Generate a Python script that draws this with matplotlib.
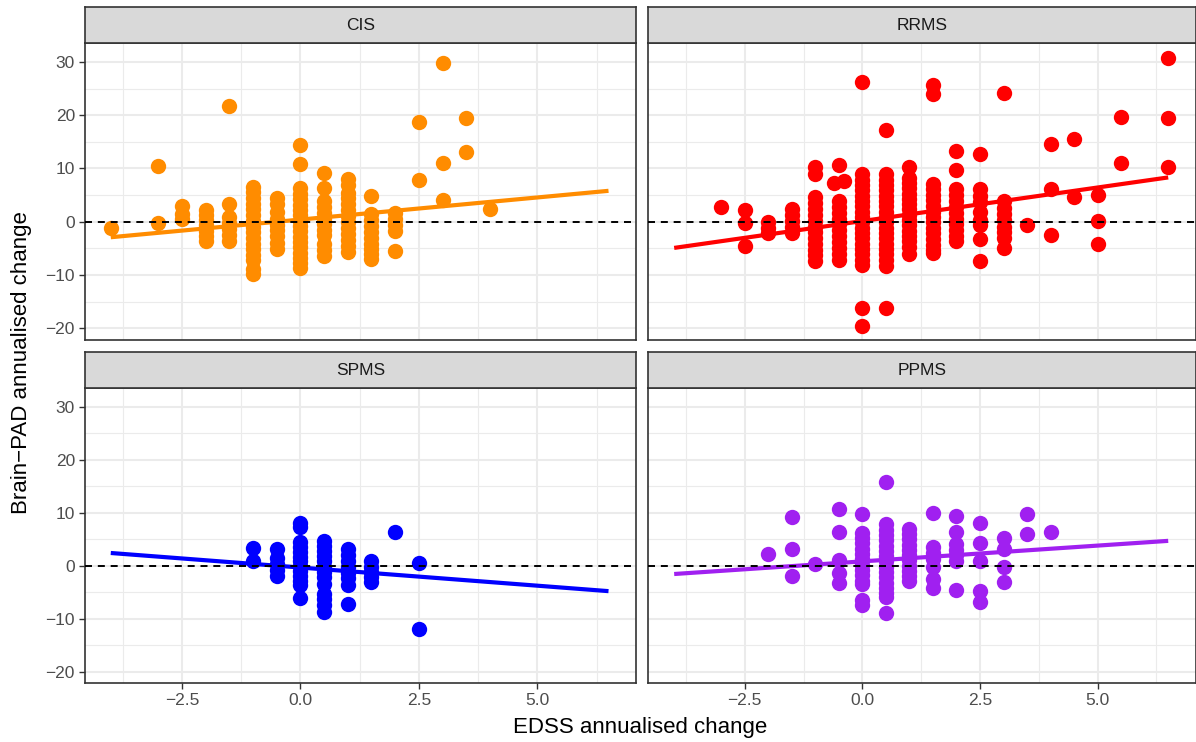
import numpy as np
import matplotlib
matplotlib.use("Agg")
import matplotlib.pyplot as plt

plt.rcParams['font.family'] = ['Liberation Sans', 'DejaVu Sans']

# EDSS change values (columns) and the Brain-PAD changes at each of them
cis_x = [-4, -3, -2.5, -2, -1.5, -1, -0.5, 0, 0.5, 1, 1.5, 2, 2.5, 3, 3.5, 4]
cis_y = [
    [-1.2],
    [10.5, -0.3],
    [3.0, 1.5, 0.5],
    [2.2, 1.2, 0.3, -0.7, -1.7, -2.7, -3.6],
    [21.8, 3.3, 0.8, -0.3, -1.4, -2.5, -3.6],
    [6.6, 5.5, 4.5, 3.4, 2.3, 1.2, 0.2, -0.9, -2.0, -3.0, -4.1, -5.2, -6.3, -7.2, -8.8, -9.8],
    [4.4, 3.3, 1.9, 0.6, -0.6, -1.5, -2.6, -4.0, -5.2],
    [14.4, 10.8, 6.4, 5.3, 4.3, 3.2, 2.2, 1.2, 0.2, -0.8, -1.8, -2.8, -3.8, -4.8, -5.8, -6.8, -7.8, -8.6],
    [9.2, 6.4, 3.9, 2.8, 1.7, 0.6, -0.5, -1.5, -2.4, -4.2, -5.3, -6.4],
    [8.0, 6.9, 5.4, 4.4, 3.3, 2.2, 1.1, 0.0, -1.2, -2.3, -3.4, -4.5, -5.7],
    [4.8, 1.4, 0.3, -0.8, -1.9, -3.0, -4.1, -5.2, -6.0, -6.9],
    [1.6, 0.5, -0.7, -1.8, -5.4],
    [18.8, 7.8],
    [29.8, 11.0, 4.0],
    [19.4, 13.1],
    [2.3],
]

rrms_x = [-3, -2.5, -2, -1.5, -1, -0.6, -0.5, -0.4, 0, 0.5, 1, 1.5, 2, 2.5, 3, 3.5, 4, 4.5, 5, 5.5, 6.5]
rrms_y = [
    [2.7],
    [2.2, -0.3, -4.6],
    [0.0, -1.1, -2.2],
    [2.3, 1.2, 0.1, -1.0, -2.2],
    [10.2, 8.9, 4.6, 3.5, 2.4, 1.3, 0.2, -0.9, -2.0, -3.1, -4.2, -5.3, -6.3, -7.3],
    [7.3],
    [10.6, 3.9, 2.8, 1.7, 0.6, -0.5, -1.6, -2.7, -3.8, -4.9, -6.0, -7.2],
    [7.6],
    [26.3, 8.9, 7.9, 6.9, 5.9, 4.9, 3.9, 2.9, 1.9, 0.9, -0.1, -1.1, -2.1, -3.1, -4.1,
     -5.1, -6.1, -7.1, -8.1, -16.1, -19.5],
    [17.3, 8.9, 7.9, 6.9, 5.9, 4.9, 3.9, 2.9, 1.9, 0.9, -0.1, -1.1, -2.1, -3.1, -4.1,
     -5.1, -6.1, -7.1, -8.3, -16.1],
    [10.2, 8.3, 7.3, 6.3, 5.3, 4.3, 3.3, 2.3, 1.3, 0.3, -0.7, -1.7, -2.7, -3.7, -4.7, -6.1],
    [25.7, 24.0, 7.1, 6.1, 5.0, 4.0, 3.0, 1.9, 0.9, -0.1, -1.2, -2.2, -3.2, -4.3, -5.3, -5.8],
    [13.3, 9.7, 6.1, 5.0, 3.9, 2.8, 1.7, 0.6, -0.5, -1.6, -2.7, -3.6],
    [12.8, 6.2, 4.9, 3.8, 1.9, 0.4, -0.6, -3.3, -7.4],
    [24.2, 3.9, 2.6, 1.4, 0.3, -0.9, -2.0, -3.1, -5.0],
    [-0.6],
    [14.6, 6.1, -2.4],
    [15.6, 4.6],
    [5.0, 0.2, -4.2],
    [19.6, 11.1],
    [30.7, 19.4, 10.3],
]

spms_x = [-1, -0.5, 0, 0.5, 1, 1.5, 2, 2.5]
spms_y = [
    [3.4, 0.9],
    [3.1, 1.5, 0.3, -0.9, -1.9],
    [8.0, 7.4, 4.4, 3.5, 2.6, 1.7, 0.8, -0.1, -1.0, -1.9, -2.8, -3.7, -6.1],
    [4.7, 3.8, 2.8, 1.8, 0.8, -0.2, -1.2, -2.2, -3.4, -5.3, -6.3, -7.5, -8.7],
    [3.1, 2.0, 0.9, -0.2, -1.3, -2.4, -3.7, -7.3],
    [0.9, -0.2, -1.1, -2.1, -3.1],
    [6.3],
    [0.5, -12.0],
]

ppms_x = [-2, -1.5, -1, -0.5, 0, 0.5, 1, 1.5, 2, 2.5, 3, 3.5, 4]
ppms_y = [
    [2.3],
    [9.2, 3.2, -1.9],
    [0.4],
    [10.8, 6.4, 1.1, -1.4, -3.2],
    [9.8, 6.2, 5.2, 4.2, 3.2, 2.2, 1.2, 0.2, -0.8, -1.8, -2.8, -3.4, -6.4, -7.4],
    [15.9, 7.8, 6.8, 5.8, 4.8, 3.8, 2.8, 1.8, 0.8, -0.2, -1.2, -2.2, -3.2, -4.2, -5.1, -5.9, -8.9],
    [7.0, 6.0, 5.0, 4.0, 3.0, 2.0, 1.0, 0.0, -1.0, -2.0, -2.8],
    [10.0, 3.6, 2.4, 1.2, -0.2, -2.5, -4.2],
    [9.4, 6.4, 4.1, 3.0, 2.0, 0.9, -4.6],
    [8.1, 4.3, 0.9, -4.8, -6.9],
    [5.3, 3.1, -0.2, -3.1],
    [9.8, 5.9],
    [6.4],
]

groups = ['CIS', 'RRMS', 'SPMS', 'PPMS']
colours = ['#FF8C00', '#FF0000', '#0000FF', '#A020F0']
group_x = [cis_x, rrms_x, spms_x, ppms_x]
group_y = [cis_y, rrms_y, spms_y, ppms_y]

# linear fit per group: intercept, slope
fit_intercept = [0.41, 0.13, -0.34, 0.82]
fit_slope = [0.83, 1.26, -0.686, 0.596]
fit_range = [-4.0, 6.5]

W, H = 1196, 742
fig = plt.figure(figsize=(W / 100, H / 100), dpi=100)

# panel boxes in pixels: left, right, top, bottom
cols_px = [(84.7, 636.0), (648.3, 1195.5)]
rows_px = [(43.3, 340.0), (388.3, 683.3)]
strip_h = 36.0

border_col = '#333333'

for i, grp in enumerate(groups):
    r, c = divmod(i, 2)
    x0, x1 = cols_px[c]
    y0, y1 = rows_px[r]
    ax = fig.add_axes([x0 / W, 1 - y1 / H, (x1 - x0) / W, (y1 - y0) / H])
    sax = fig.add_axes([x0 / W, 1 - y0 / H, (x1 - x0) / W, strip_h / H])

    xs = np.concatenate([[xv] * len(yv) for xv, yv in zip(group_x[i], group_y[i])])
    ys = np.concatenate(group_y[i])
    ax.scatter(xs, ys, s=122, color=colours[i], linewidths=0, zorder=3)

    fx = np.array(fit_range)
    ax.plot(fx, fit_intercept[i] + fit_slope[i] * fx, color=colours[i],
            lw=3.0, solid_capstyle='butt', zorder=4)
    ax.axhline(0, color='black', lw=1.4, ls=(0, (3.6, 3.0)), zorder=5)

    ax.set_xlim(-4.55, 7.08)
    ax.set_ylim(-22.2, 33.5)
    ax.set_xticks([-2.5, 0, 2.5, 5])
    ax.set_xticks([-3.75, -1.25, 1.25, 3.75, 6.25], minor=True)
    ax.set_yticks([-20, -10, 0, 10, 20, 30])
    ax.set_yticks([-15, -5, 5, 15, 25], minor=True)
    ax.grid(True, which='major', color='#EBEBEB', lw=1.5, zorder=0)
    ax.grid(True, which='minor', color='#EBEBEB', lw=0.8, zorder=0)
    ax.set_axisbelow(True)
    ax.tick_params(which='minor', length=0)
    ax.tick_params(which='major', length=4, width=1.0, color=border_col,
                   labelcolor='#4D4D4D', labelsize=12.5, pad=3)
    if r == 0:
        ax.tick_params(axis='x', which='major', length=0, labelbottom=False)
    if c == 1:
        ax.tick_params(axis='y', which='major', length=0, labelleft=False)
    for sp in ax.spines.values():
        sp.set_color(border_col)
        sp.set_linewidth(1.2)

    sax.set_facecolor('#D9D9D9')
    sax.set_xticks([])
    sax.set_yticks([])
    for sp in sax.spines.values():
        sp.set_color(border_col)
        sp.set_linewidth(1.2)
    sax.text(0.5, 0.5, grp, ha='center', va='center', fontsize=12.5,
             color='#1A1A1A', transform=sax.transAxes)

fig.text(0.5 * (84.7 + 1195.5) / W, 1 - 728 / H, 'EDSS annualised change',
         ha='center', va='center', fontsize=16, color='black')
fig.text(22 / W, 1 - 363 / H, 'Brain\u2212PAD annualised change', rotation=90,
         ha='center', va='center', fontsize=16, color='black')

fig.savefig('out.png', dpi=100)
